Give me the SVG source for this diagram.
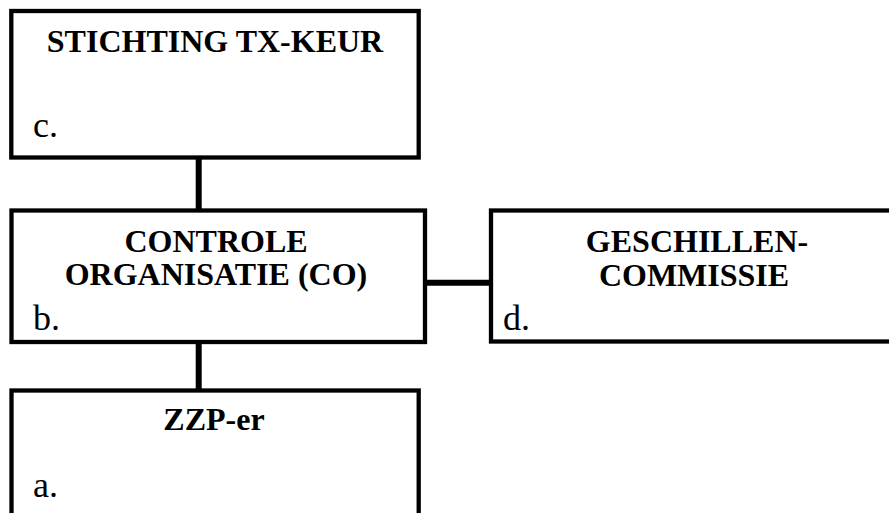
<svg xmlns="http://www.w3.org/2000/svg" width="889" height="513" viewBox="0 0 889 513">
<style>
.box{fill:#fff;stroke:#000;stroke-width:4.3}
.conn{stroke:#000;stroke-width:6;fill:none}
.title{font-family:'Liberation Serif','Times New Roman',serif;font-weight:bold;font-size:32px;text-anchor:middle;fill:#000}
.lbl{font-family:'Liberation Serif','Times New Roman',serif;font-size:36px;fill:#000}
</style>
<rect width="889" height="513" fill="#fff"/>
<g id="connectors">
<line class="conn" x1="198.7" y1="157" x2="198.7" y2="211"/>
<line class="conn" x1="198.7" y1="342" x2="198.7" y2="391"/>
<line class="conn" x1="425" y1="282.7" x2="496.7" y2="282.7" stroke-width="6.5"/>
</g>
<g id="node-c">
<rect class="box" x="11.3" y="11" width="407.4" height="146.5"/>
<text class="title" x="215" y="52">STICHTING TX-KEUR</text>
<text class="lbl" x="33" y="137">c.</text>
</g>
<g id="node-b">
<rect class="box" x="11.5" y="210.5" width="413.5" height="131.5"/>
<text class="title" x="216" y="252">CONTROLE</text>
<text class="title" x="216" y="285">ORGANISATIE (CO)</text>
<text class="lbl" x="33" y="330">b.</text>
</g>
<g id="node-d">
<rect class="box" x="491" y="210.5" width="409" height="131"/>
<text class="title" x="697" y="252">GESCHILLEN-</text>
<text class="title" x="694" y="286">COMMISSIE</text>
<text class="lbl" x="503" y="330">d.</text>
</g>
<g id="node-a">
<rect class="box" x="11.5" y="390.5" width="407.2" height="140"/>
<text class="title" x="214" y="430">ZZP-er</text>
<text class="lbl" x="33" y="497">a.</text>
</g>
</svg>
